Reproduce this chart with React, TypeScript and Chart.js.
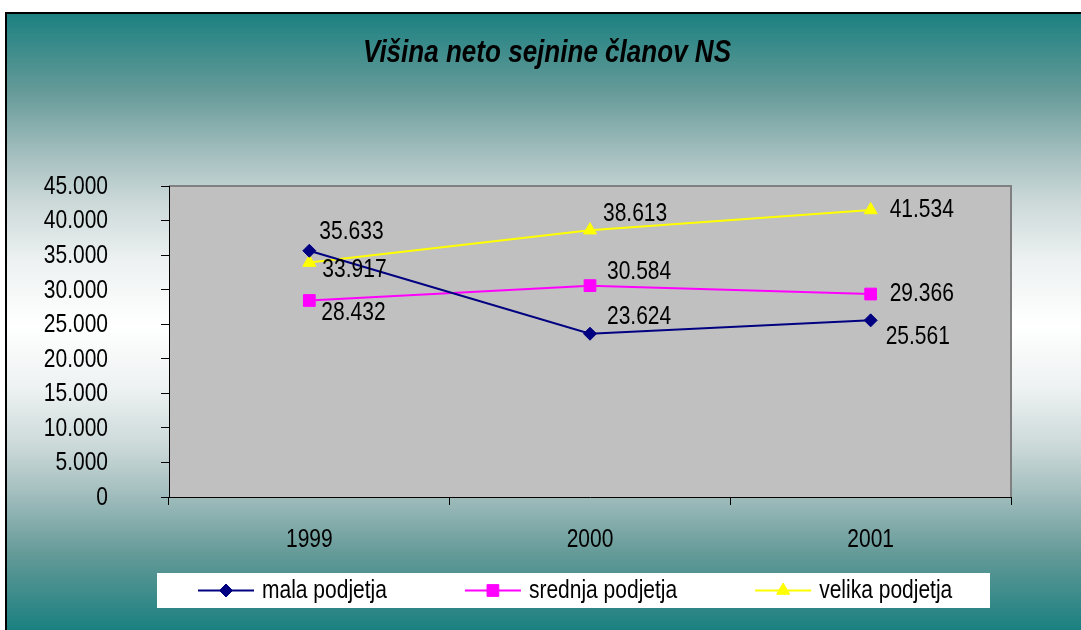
import React, { useEffect, useRef } from 'react';
import { Chart, registerables } from 'chart.js';

Chart.register(...registerables);

// ---------- data ----------
const TITLE = 'Višina neto sejnine članov NS';
const years = ['1999', '2000', '2001'];
const seriesNames = ['mala podjetja', 'srednja podjetja', 'velika podjetja'];
const malaPodjetja = [35633, 23624, 25561];
const srednjaPodjetja = [28432, 30584, 29366];
const velikaPodjetja = [33917, 38613, 41534];
const yMin = 0;
const yMax = 45000;
const yStep = 5000;

// ---------- styles ----------
const seriesColors = ['#000080', '#ff00ff', '#ffff00'];
const seriesPointStyles = ['rectRot', 'rect', 'triangle'];
const seriesPointRadius = [6.5, 8.3, 7.5];
// data label offsets (dx, dy) relative to each point, per series
const labelOffsets = [
  [[10, -19], [17, -17], [15, 17]],
  [[12, 13], [17, -14], [19, 0]],
  [[13, 8], [13, -16], [19, 0]],
];
const FONT = '"Liberation Sans", Arial, sans-serif';
const NARROW = 0.84; // horizontal compression of all text (narrow look)
const TEXT_SIZE = 25;
// gradient stops for one half (edge -> centre)
const halfStops: [number, string][] = [
  [0, 'rgb(26,128,128)'],
  [0.25, 'rgb(100,154,152)'],
  [0.45, 'rgb(163,190,190)'],
  [0.6, 'rgb(203,216,216)'],
  [0.8, 'rgb(238,242,242)'],
  [1, 'rgb(255,255,255)'],
];

const fmt = (n: number) => String(Math.round(n)).replace(/\B(?=(\d{3})+(?!\d))/g, '.');

function drawText(
  ctx: CanvasRenderingContext2D,
  text: string,
  x: number,
  y: number,
  align: CanvasTextAlign,
  font: string,
) {
  ctx.save();
  ctx.font = font;
  ctx.fillStyle = '#000';
  ctx.textAlign = align;
  ctx.textBaseline = 'middle';
  ctx.translate(x, y);
  ctx.scale(NARROW, 1);
  ctx.fillText(text, 0, 0);
  ctx.restore();
}

function textWidth(ctx: CanvasRenderingContext2D, text: string, font: string) {
  ctx.save();
  ctx.font = font;
  const w = ctx.measureText(text).width * NARROW;
  ctx.restore();
  return w;
}

function drawMarker(ctx: CanvasRenderingContext2D, style: string, x: number, y: number, r: number, color: string) {
  ctx.save();
  ctx.fillStyle = color;
  ctx.strokeStyle = color;
  ctx.lineWidth = 1;
  ctx.beginPath();
  if (style === 'rectRot') {
    ctx.moveTo(x - r, y);
    ctx.lineTo(x, y - r);
    ctx.lineTo(x + r, y);
    ctx.lineTo(x, y + r);
  } else if (style === 'rect') {
    const s = r * Math.SQRT1_2;
    ctx.rect(x - s, y - s, 2 * s, 2 * s);
  } else {
    ctx.moveTo(x, y - r);
    ctx.lineTo(x + r * 0.866, y + r / 2);
    ctx.lineTo(x - r * 0.866, y + r / 2);
  }
  ctx.closePath();
  ctx.fill();
  ctx.stroke();
  ctx.restore();
}

const backgroundPlugin = {
  id: 'excelBackground',
  beforeDraw(chart: any) {
    const { ctx, width, height, chartArea } = chart;
    ctx.save();
    const top = 12;
    const mid = 326;
    const total = height - top;
    const g = ctx.createLinearGradient(0, top, 0, height);
    halfStops.forEach(([h, c]) => g.addColorStop(((mid - top) * h) / total, c));
    [...halfStops].reverse().forEach(([h, c]) =>
      g.addColorStop((mid - top + (height - mid) * (1 - h)) / total, c),
    );
    ctx.fillStyle = g;
    ctx.fillRect(5, top, width - 5, height - top);
    // outer border (left & top)
    ctx.strokeStyle = '#000';
    ctx.lineWidth = 2;
    ctx.beginPath();
    ctx.moveTo(6, height);
    ctx.lineTo(6, top + 1);
    ctx.lineTo(width, top + 1);
    ctx.stroke();
    // plot area
    const { left, top: t, right, bottom } = chartArea;
    ctx.fillStyle = '#c0c0c0';
    ctx.fillRect(left, t, right - left, bottom - t);
    ctx.strokeStyle = '#808080';
    ctx.lineWidth = 2;
    ctx.beginPath();
    ctx.moveTo(left, t);
    ctx.lineTo(right, t);
    ctx.lineTo(right, bottom);
    ctx.stroke();
    // title
    drawText(ctx, TITLE, 547, 53, 'center', `italic bold 31px ${FONT}`);
    ctx.restore();
  },
};

const axisLabelPlugin = {
  id: 'axisLabels',
  afterDraw(chart: any) {
    const { ctx } = chart;
    const font = `${TEXT_SIZE}px ${FONT}`;
    const ys = chart.scales.y;
    ys.ticks.forEach((t: any) => {
      drawText(ctx, fmt(t.value), 108, ys.getPixelForValue(t.value) + 1, 'right', font);
    });
    const xs = chart.scales.x;
    (chart.data.labels as string[]).forEach((lab, i) => {
      drawText(ctx, lab, xs.getPixelForValue(i), 540, 'center', font);
    });
  },
};

const dataLabelPlugin = {
  id: 'valueLabels',
  afterDatasetsDraw(chart: any) {
    const { ctx } = chart;
    const font = `${TEXT_SIZE}px ${FONT}`;
    chart.data.datasets.forEach((ds: any, di: number) => {
      const meta = chart.getDatasetMeta(di);
      meta.data.forEach((pt: any, i: number) => {
        const [dx, dy] = labelOffsets[di][i];
        drawText(ctx, fmt(ds.data[i]), pt.x + dx, pt.y + dy, 'left', font);
      });
    });
  },
};

const legendPlugin = {
  id: 'excelLegend',
  afterDraw(chart: any) {
    const { ctx } = chart;
    const font = `${TEXT_SIZE}px ${FONT}`;
    ctx.save();
    const bx = 157, by = 573, bw = 833, bh = 35;
    ctx.fillStyle = '#fff';
    ctx.fillRect(bx, by, bw, bh);
    const cy = by + bh / 2;
    let x = 198;
    chart.data.datasets.forEach((ds: any, di: number) => {
      ctx.strokeStyle = ds.borderColor;
      ctx.lineWidth = 2;
      ctx.beginPath();
      ctx.moveTo(x, cy);
      ctx.lineTo(x + 56, cy);
      ctx.stroke();
      drawMarker(ctx, seriesPointStyles[di], x + 28, cy, seriesPointRadius[di], ds.borderColor);
      const tx = x + 64;
      drawText(ctx, ds.label, tx, cy + 1, 'left', font);
      x = tx + textWidth(ctx, ds.label, font) + 78;
    });
    ctx.restore();
  },
};

export default function App() {
  const canvasRef = useRef<HTMLCanvasElement | null>(null);

  useEffect(() => {
    if (!canvasRef.current) return;
    const series = [malaPodjetja, srednjaPodjetja, velikaPodjetja];
    const chart = new Chart(canvasRef.current, {
      type: 'line',
      data: {
        labels: years,
        datasets: series.map((d, i) => ({
          label: seriesNames[i],
          data: d,
          borderColor: seriesColors[i],
          backgroundColor: seriesColors[i],
          borderWidth: 2,
          pointStyle: seriesPointStyles[i] as any,
          pointRadius: seriesPointRadius[i],
          pointBorderWidth: 1,
          pointBackgroundColor: seriesColors[i],
          pointBorderColor: seriesColors[i],
          tension: 0,
          fill: false,
        })),
      },
      options: {
        responsive: false,
        animation: false,
        events: [],
        layout: { padding: { top: 186, right: 70, left: 0, bottom: 0 } },
        plugins: {
          legend: { display: false },
          title: { display: false },
          tooltip: { enabled: false },
        },
        scales: {
          x: {
            type: 'category',
            offset: true,
            grid: { offset: true, drawOnChartArea: false, drawTicks: true, tickLength: 8, color: '#000', lineWidth: 1 },
            border: { display: true, color: '#000', width: 1 },
            ticks: { display: false },
            afterFit: (s: any) => { s.height = 133; },
          },
          y: {
            min: yMin,
            max: yMax,
            grid: { drawOnChartArea: false, drawTicks: true, tickLength: 8, color: '#000', lineWidth: 1 },
            border: { display: true, color: '#000', width: 1 },
            ticks: { stepSize: yStep, display: false },
            afterFit: (s: any) => { s.width = 169; },
          },
        },
      },
      plugins: [backgroundPlugin, axisLabelPlugin, dataLabelPlugin, legendPlugin],
    });
    return () => chart.destroy();
  }, []);

  return (
    <div style={{ position: 'absolute', left: 0, top: 0, width: 1081, height: 630 }}>
      <canvas ref={canvasRef} width={1081} height={630} style={{ display: 'block' }} />
    </div>
  );
}
